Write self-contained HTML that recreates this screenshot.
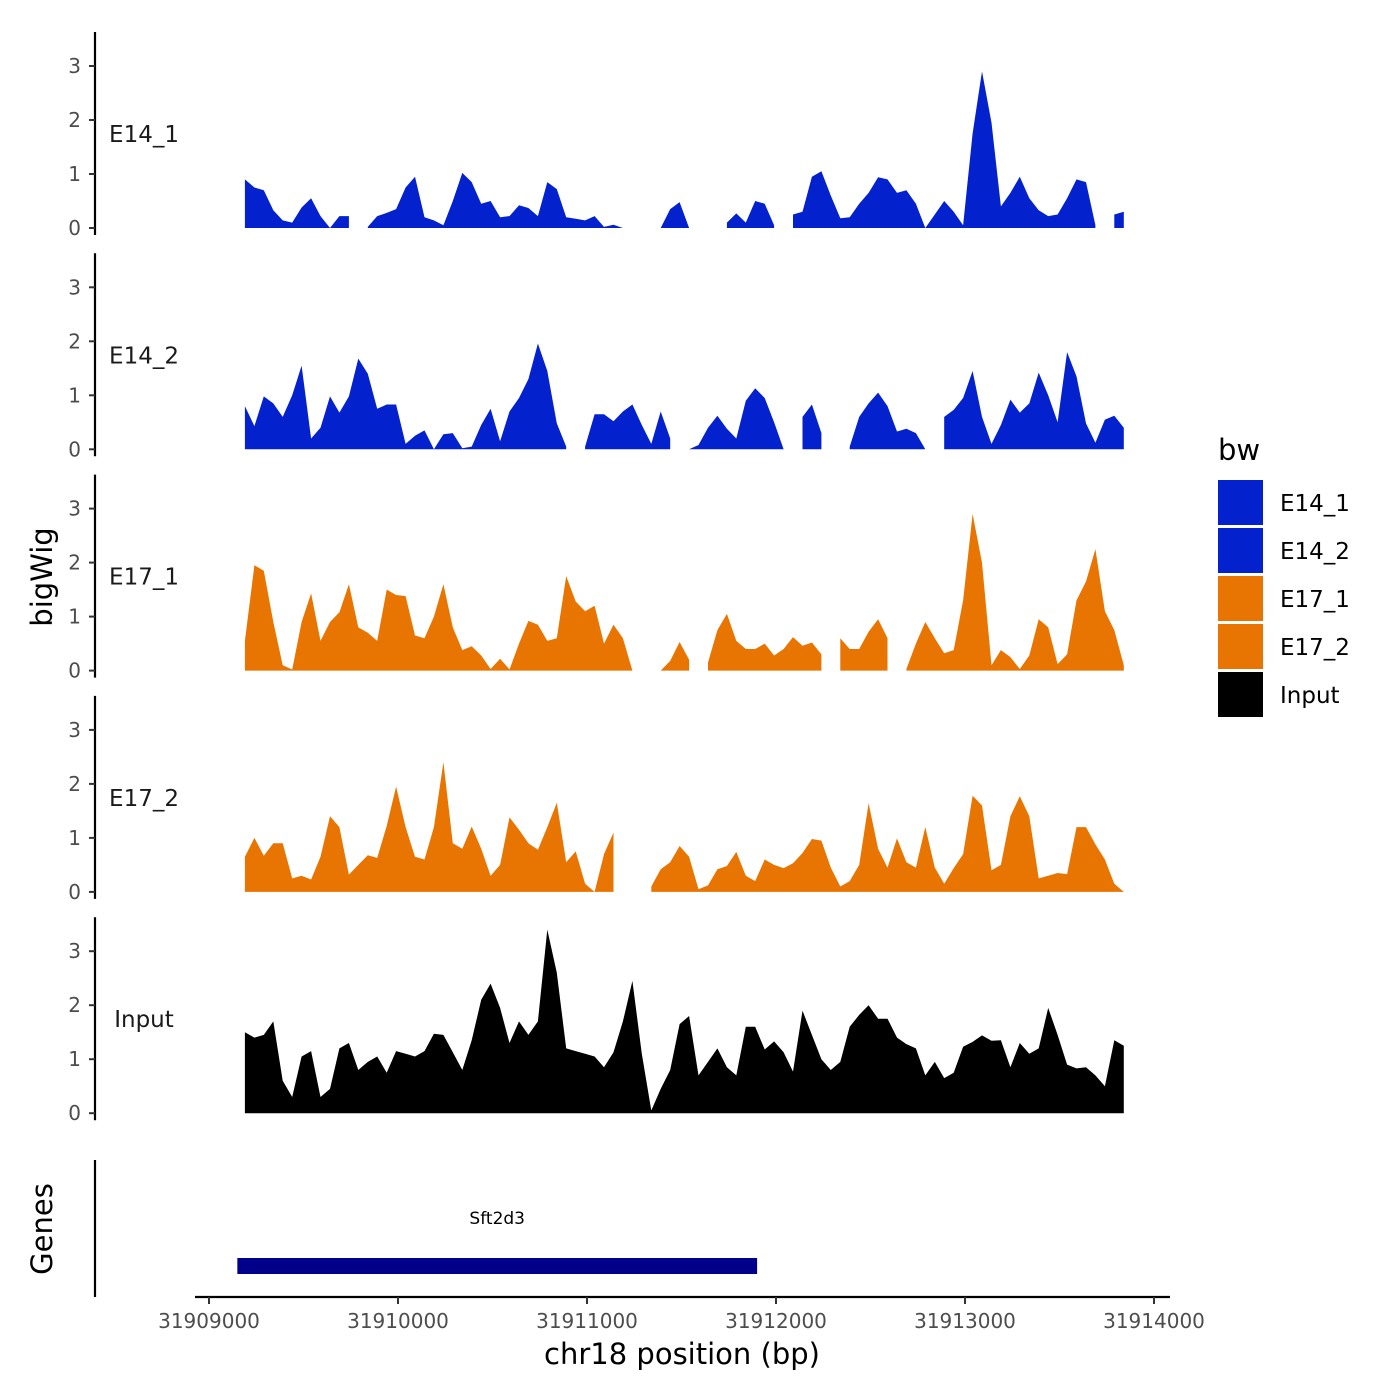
<!DOCTYPE html>
<html><head><meta charset="utf-8"><style>
html,body{margin:0;padding:0;background:#fff;}
svg{display:block;font-family:"DejaVu Sans","Liberation Sans",sans-serif;}
</style></head><body>
<svg id="chart" width="1400" height="1400" viewBox="0 0 1400 1400" xmlns="http://www.w3.org/2000/svg">
<rect width="1400" height="1400" fill="#fff"/>
<g id="tracks"></g>
<g id="genes">
  <line x1="95" y1="1160" x2="95" y2="1297" stroke="#000" stroke-width="2.2"/>
  <text x="52" y="1229" font-size="29" text-anchor="middle" transform="rotate(-90 52 1229)" fill="#000">Genes</text>
</g>
<g id="xaxis">
  <line x1="195" y1="1297" x2="1170" y2="1297" stroke="#000" stroke-width="2.2"/>
</g>
<text x="682" y="1364" font-size="29" text-anchor="middle" fill="#000">chr18 position (bp)</text>
<text x="52" y="577" font-size="29" text-anchor="middle" transform="rotate(-90 52 577)" fill="#000">bigWig</text>
<g id="legend">
  <text x="1218" y="460" font-size="29" fill="#000">bw</text>
</g>
</svg>
<script>
const trackNames = ["E14_1","E14_2","E17_1","E17_2","Input"];
const trackColors = ["#0321CC","#0321CC","#E87502","#E87502","#000000"];
const binStart = 31909190;
const binStep = 50;
const e14_1 = [0.9,0.75,0.7,0.33,0.14,0.1,0.38,0.55,0.22,0.0,0.22,0.22,null,0.02,0.22,0.28,0.35,0.75,0.95,0.2,0.14,0.05,0.5,1.02,0.85,0.45,0.5,0.2,0.22,0.42,0.37,0.22,0.85,0.72,0.2,0.17,0.14,0.22,0.02,0.06,0.0,null,null,null,0.0,0.35,0.48,0.0,null,null,null,0.1,0.27,0.1,0.5,0.45,0.05,null,0.25,0.3,0.95,1.05,0.6,0.18,0.2,0.45,0.65,0.94,0.9,0.65,0.7,0.45,0.0,0.25,0.5,0.3,0.05,1.75,2.9,1.95,0.4,0.65,0.95,0.55,0.33,0.22,0.25,0.55,0.9,0.85,0.05,null,0.25,0.3];
const e14_2 = [0.8,0.43,0.98,0.85,0.6,1.0,1.55,0.2,0.4,0.98,0.68,0.98,1.68,1.4,0.75,0.83,0.83,0.1,0.25,0.35,0.0,0.28,0.3,0.02,0.05,0.45,0.75,0.15,0.7,0.95,1.3,1.96,1.45,0.48,0.05,null,0.05,0.65,0.65,0.52,0.7,0.83,0.45,0.1,0.7,0.2,null,0.0,0.08,0.4,0.62,0.38,0.2,0.9,1.13,0.95,0.5,0.0,null,0.6,0.83,0.3,null,null,0.05,0.6,0.85,1.05,0.8,0.33,0.38,0.3,0.0,null,0.6,0.73,0.95,1.45,0.6,0.1,0.45,0.92,0.68,0.85,1.42,1.0,0.5,1.8,1.35,0.48,0.12,0.55,0.62,0.4];
const e17_1 = [0.55,1.95,1.85,0.9,0.1,0.02,0.9,1.43,0.55,0.9,1.08,1.6,0.8,0.7,0.55,1.5,1.4,1.38,0.65,0.6,1.0,1.6,0.8,0.38,0.45,0.28,0.03,0.22,0.02,0.5,0.92,0.85,0.55,0.6,1.75,1.28,1.1,1.2,0.5,0.85,0.6,0.0,null,null,0.0,0.18,0.53,0.2,null,0.15,0.75,1.05,0.55,0.4,0.4,0.5,0.28,0.4,0.62,0.46,0.52,0.3,null,0.6,0.4,0.4,0.72,0.95,0.6,null,0.03,0.5,0.9,0.6,0.32,0.38,1.3,2.9,2.0,0.1,0.38,0.25,0.03,0.28,0.95,0.8,0.12,0.3,1.3,1.65,2.25,1.1,0.75,0.1];
const e17_2 = [0.65,1.0,0.67,0.9,0.9,0.25,0.3,0.23,0.65,1.4,1.2,0.32,0.5,0.68,0.63,1.22,1.95,1.2,0.65,0.6,1.2,2.4,0.9,0.8,1.21,0.8,0.3,0.5,1.38,1.15,0.9,0.78,1.2,1.65,0.55,0.75,0.15,0.0,0.7,1.1,null,null,null,0.1,0.42,0.55,0.85,0.65,0.05,0.12,0.42,0.48,0.74,0.3,0.2,0.6,0.5,0.44,0.53,0.72,0.98,0.95,0.45,0.1,0.2,0.5,1.64,0.8,0.45,0.99,0.55,0.45,1.2,0.45,0.15,0.44,0.7,1.78,1.6,0.4,0.5,1.4,1.77,1.4,0.25,0.3,0.35,0.33,1.2,1.2,0.88,0.6,0.15,0.0];
const input = [1.5,1.4,1.45,1.7,0.6,0.3,1.05,1.15,0.3,0.45,1.2,1.3,0.8,0.95,1.05,0.75,1.15,1.1,1.05,1.15,1.47,1.45,1.13,0.8,1.35,2.1,2.4,1.95,1.3,1.7,1.45,1.7,3.4,2.6,1.2,1.15,1.1,1.05,0.85,1.13,1.7,2.45,1.1,0.05,0.45,0.8,1.65,1.8,0.7,0.95,1.2,0.85,0.7,1.6,1.6,1.18,1.33,1.13,0.77,1.9,1.45,1.0,0.8,0.95,1.6,1.82,2.0,1.75,1.75,1.4,1.28,1.2,0.7,0.95,0.65,0.75,1.23,1.32,1.44,1.34,1.35,0.85,1.3,1.1,1.2,1.95,1.45,0.9,0.83,0.85,0.7,0.5,1.35,1.25];
const trackValues = [e14_1,e14_2,e17_1,e17_2,input];
const yTicks = [0,1,2,3];
const xTicks = [31909000,31910000,31911000,31912000,31913000,31914000];
const geneName = "Sft2d3";
const geneStart = 31909150;
const geneEnd = 31911900;

const NS = "http://www.w3.org/2000/svg";
function xScale(bp){ return 209 + (bp - 31909000) * 0.189; }
function panelBase(k){ return 228 + k * 221.3; }
function yScale(k, v){ return panelBase(k) - v * 54; }
function mk(tag, attrs, parent){ const e = document.createElementNS(NS, tag); for (const a in attrs) e.setAttribute(a, attrs[a]); parent.appendChild(e); return e; }

const tracks = document.getElementById("tracks");
trackNames.forEach((name, k) => {
  const g = mk("g", {}, tracks);
  
  
  const base = panelBase(k);
  const ax = mk("line", {x1:95, y1:base - 196, x2:95, y2:base + 7, stroke:"#000", "stroke-width":2.2}, g);
  
  
  yTicks.forEach(t => {
    const y = yScale(k, t);
    const tl = mk("line", {x1:89, y1:y, x2:95, y2:y, stroke:"#333", "stroke-width":2}, g);
    
    
    const tx = mk("text", {x:81, y:y + 7, "font-size":20, "text-anchor":"end", fill:"#4d4d4d"}, g);
    tx.textContent = t;
    
    
  });
  const lab = mk("text", {x:144, y:yScale(k, 1.74) + 8, "font-size":23, "text-anchor":"middle", fill:"#1a1a1a"}, g);
  lab.textContent = name;
  
  
  const vals = trackValues[k];
  let seg = [];
  const segs = [];
  vals.forEach((v, i) => {
    if (v === null) { if (seg.length) segs.push(seg); seg = []; }
    else seg.push([xScale(binStart + i * binStep), yScale(k, v)]);
  });
  if (seg.length) segs.push(seg);
  segs.forEach(s => {
    let d = "M" + s[0][0].toFixed(1) + "," + base;
    s.forEach(p => { d += "L" + p[0].toFixed(1) + "," + p[1].toFixed(1); });
    d += "L" + s[s.length-1][0].toFixed(1) + "," + base + "Z";
    const p = mk("path", {d:d, fill:trackColors[k], "stroke-linejoin":"round"}, g);
    
    
  });
});

const genes = document.getElementById("genes");
const gb = mk("rect", {x:xScale(geneStart), y:1258, width:xScale(geneEnd) - xScale(geneStart), height:16, fill:"#00008B"}, genes);


const gl = mk("text", {x:(xScale(geneStart) + xScale(geneEnd)) / 2, y:1224, "font-size":17, "text-anchor":"middle", fill:"#000"}, genes);
gl.textContent = geneName;



const xaxis = document.getElementById("xaxis");
xTicks.forEach(t => {
  const x = xScale(t);
  const tl = mk("line", {x1:x, y1:1297, x2:x, y2:1304, stroke:"#333", "stroke-width":2}, xaxis);
  
  
  const tx = mk("text", {x:x, y:1328, "font-size":20, "text-anchor":"middle", fill:"#4d4d4d"}, xaxis);
  tx.textContent = t;
  
  
});

const legend = document.getElementById("legend");
trackNames.forEach((name, k) => {
  const y = 480 + k * 48;
  const r = mk("rect", {x:1218, y:y, width:45, height:45, fill:trackColors[k]}, legend);
  
  
  const t = mk("text", {x:1280, y:y + 31, "font-size":23, fill:"#000"}, legend);
  t.textContent = name;
  
  
});
</script>
</body></html>
